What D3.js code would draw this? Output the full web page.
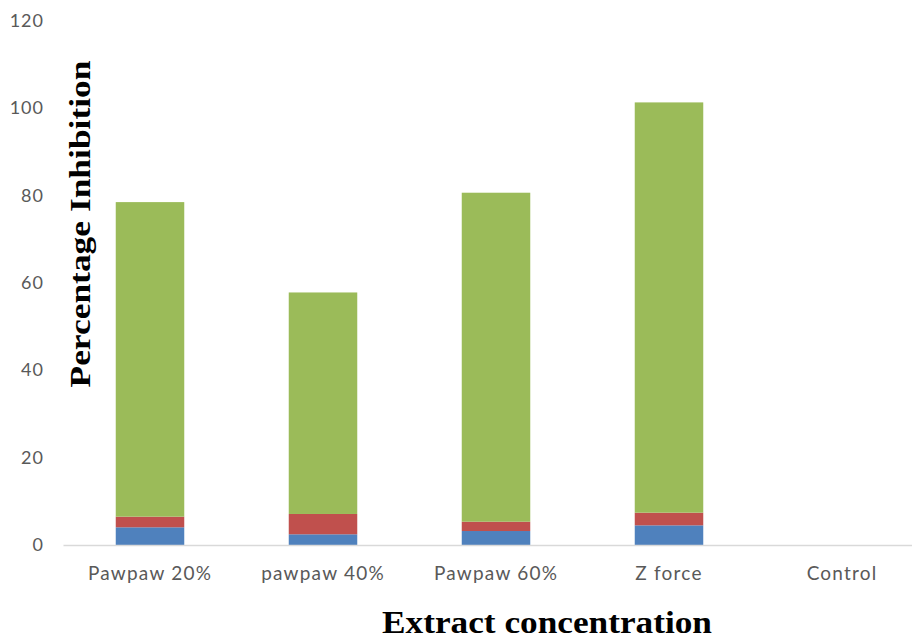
<!DOCTYPE html>
<html>
<head>
<meta charset="utf-8">
<script src="https://cdn.jsdelivr.net/npm/d3@7"></script>
<style>
  html, body { margin: 0; padding: 0; background: #fff; }
  svg { display: block; }
</style>
</head>
<body>
<svg id="chart" width="912" height="640"></svg>
<script>
// Categories along the x axis
const categories = ["Pawpaw 20%", "pawpaw 40%", "Pawpaw 60%", "Z force", "Control"];
// Stacked series values (bottom to top)
const seriesBlue  = [4.05, 2.45, 3.2, 4.5, 0];
const seriesRed   = [2.43, 4.65, 2.13, 2.9, 0];
const seriesGreen = [72.0, 50.7, 75.3, 93.9, 0];
const seriesNames = ["s1", "s2", "s3"];
const seriesColors = ["#4F81BD", "#C0504D", "#9BBB59"];
// Y axis tick labels
const yTicks = [0, 20, 40, 60, 80, 100, 120];

const svg = d3.select("#chart");
const x0 = 63.5, x1 = 928.5, yBase = 545, yTop = 20.7;

const x = d3.scaleBand().domain(categories).range([x0, x1]).padding(0);
const y = d3.scaleLinear().domain([0, 120]).range([yBase, yTop]);
const barW = x.step() * 0.396;

const rows = categories.map((c, i) => ({ cat: c, s1: seriesBlue[i], s2: seriesRed[i], s3: seriesGreen[i] }));
const stacked = d3.stack().keys(seriesNames)(rows);

// Bars
svg.append("g").selectAll("g").data(stacked).join("g")
  .attr("fill", (d, i) => seriesColors[i])
  .selectAll("rect").data(d => d).join("rect")
  .attr("x", d => x(d.data.cat) + x.bandwidth() / 2 - barW / 2)
  .attr("width", barW)
  .attr("y", d => y(d[1]))
  .attr("height", d => Math.max(0, y(d[0]) - y(d[1])));

// Baseline
svg.append("line")
  .attr("x1", x0).attr("x2", 912)
  .attr("y1", yBase + 0.5).attr("y2", yBase + 0.5)
  .attr("stroke", "#D9D9D9").attr("stroke-width", 1.5);

// Y axis labels
const yAxis = d3.axisLeft(y).tickValues(yTicks).tickSize(0).tickPadding(0);
const gy = svg.append("g").attr("transform", "translate(44,0)").call(yAxis);
gy.select(".domain").remove();
gy.selectAll("text")
  .attr("fill", "#595959")
  .style("font-family", "Lato, 'Open Sans', sans-serif")
  .style("font-size", "18px")
  .style("letter-spacing", "1px");

// X axis labels
const xAxis = d3.axisBottom(x).tickSize(0).tickPadding(0);
const gx = svg.append("g").attr("transform", "translate(0,566)").call(xAxis);
gx.select(".domain").remove();
gx.selectAll("text")
  .attr("fill", "#595959")
  .style("font-family", "Lato, 'Open Sans', sans-serif")
  .style("font-size", "19px")
  .style("letter-spacing", "1.2px");

// Axis titles
svg.append("text")
  .attr("x", 547).attr("y", 633)
  .attr("text-anchor", "middle")
  .attr("textLength", 330).attr("lengthAdjust", "spacingAndGlyphs")
  .style("font-family", "'Liberation Serif', 'Times New Roman', serif")
  .style("font-weight", "bold").style("font-size", "31px")
  .attr("fill", "#000")
  .text("Extract concentration");

svg.append("text")
  .attr("transform", "translate(90,224) rotate(-90)")
  .attr("text-anchor", "middle")
  .attr("textLength", 327).attr("lengthAdjust", "spacingAndGlyphs")
  .style("font-family", "'Liberation Serif', 'Times New Roman', serif")
  .style("font-weight", "bold").style("font-size", "30px")
  .attr("fill", "#000")
  .text("Percentage Inhibition");
</script>
</body>
</html>
